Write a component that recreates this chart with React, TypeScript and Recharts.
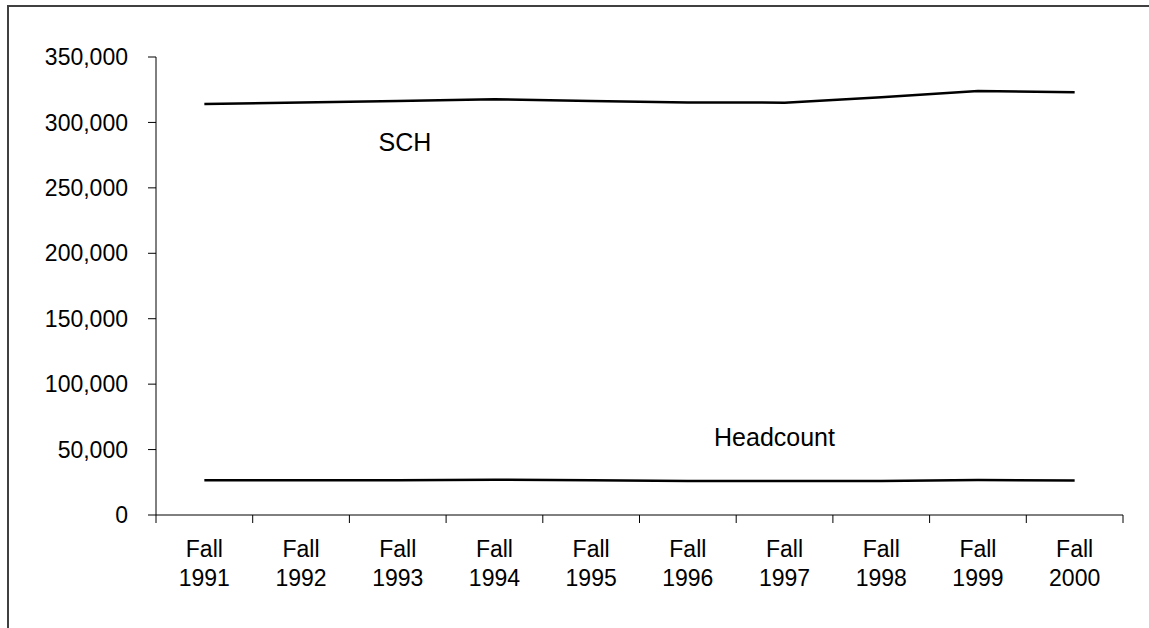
import React from "react";
import { LineChart, Line, XAxis, YAxis, ReferenceDot } from "recharts";

// Fall enrollment trend: student credit hours vs headcount
const years = ["1991", "1992", "1993", "1994", "1995", "1996", "1997", "1998", "1999", "2000"];
const sch = [314000, 315300, 316400, 317700, 316400, 315300, 315100, 319200, 324000, 323000];
const headcount = [26500, 26500, 26600, 27000, 26500, 25900, 25900, 26000, 26700, 26300];
const yTicks = [0, 50000, 100000, 150000, 200000, 250000, 300000, 350000];
const xBounds = [0, 1, 2, 3, 4, 5, 6, 7, 8, 9, 10];

const data = years.map((y, i) => ({ year: y, pos: i + 0.5, sch: sch[i], headcount: headcount[i] }));

const FONT = "Arial, 'Liberation Sans', sans-serif";

const NoLabel = () => <g />;

const YearTick = (props: any) => {
  const { x, y, payload } = props;
  return (
    <text x={x} y={y} textAnchor="middle" fontFamily={FONT} fontSize={23} fill="#000">
      <tspan x={x} dy={34}>Fall</tspan>
      <tspan x={x} dy={29}>{payload.value}</tspan>
    </text>
  );
};

const annotation = (text: string) => (props: any) => {
  const vb = props.viewBox || {};
  const cx = vb.x + (vb.width || 0) / 2;
  const cy = vb.y + (vb.height || 0) / 2;
  return (
    <text x={cx} y={cy} textAnchor="middle" fontFamily={FONT} fontSize={25} fill="#000">
      {text}
    </text>
  );
};

export default function App() {
  return (
    <>
      <div
        style={{
          position: "absolute", left: 7, top: 5, right: 0, bottom: 0,
          borderLeft: "2px solid #404040", borderTop: "2px solid #404040",
        }}
      />
      <div style={{ position: "absolute", left: 0, top: 0 }}>
        <LineChart width={1149} height={628} data={data}
          margin={{ top: 57, right: 26, bottom: 25, left: 8 }}>
          <XAxis xAxisId="a" type="number" dataKey="pos" domain={[0, 10]} ticks={xBounds}
            tick={NoLabel} tickSize={8} height={8} stroke="#000" interval={0} />
          <XAxis xAxisId="b" dataKey="year" scale="band" axisLine={false} tickLine={false}
            tickSize={0} tickMargin={0} height={80} tick={<YearTick />} interval={0} />
          <YAxis domain={[0, 350000]} ticks={yTicks} width={148} tickSize={8} tickMargin={20}
            stroke="#000" tickFormatter={(v) => Number(v).toLocaleString("en-US")}
            tick={{ fill: "#000", fontSize: 23, fontFamily: FONT }} />
          <Line xAxisId="a" type="linear" dataKey="sch" stroke="#000" strokeWidth={2.5}
            dot={false} isAnimationActive={false} />
          <Line xAxisId="a" type="linear" dataKey="headcount" stroke="#000" strokeWidth={2.5}
            dot={false} isAnimationActive={false} />
          <ReferenceDot xAxisId="a" x={2.575} y={278200} r={0} fill="none" stroke="none"
            label={{ content: annotation("SCH") }} />
          <ReferenceDot xAxisId="a" x={6.396} y={52700} r={0} fill="none" stroke="none"
            label={{ content: annotation("Headcount") }} />
        </LineChart>
      </div>
    </>
  );
}
